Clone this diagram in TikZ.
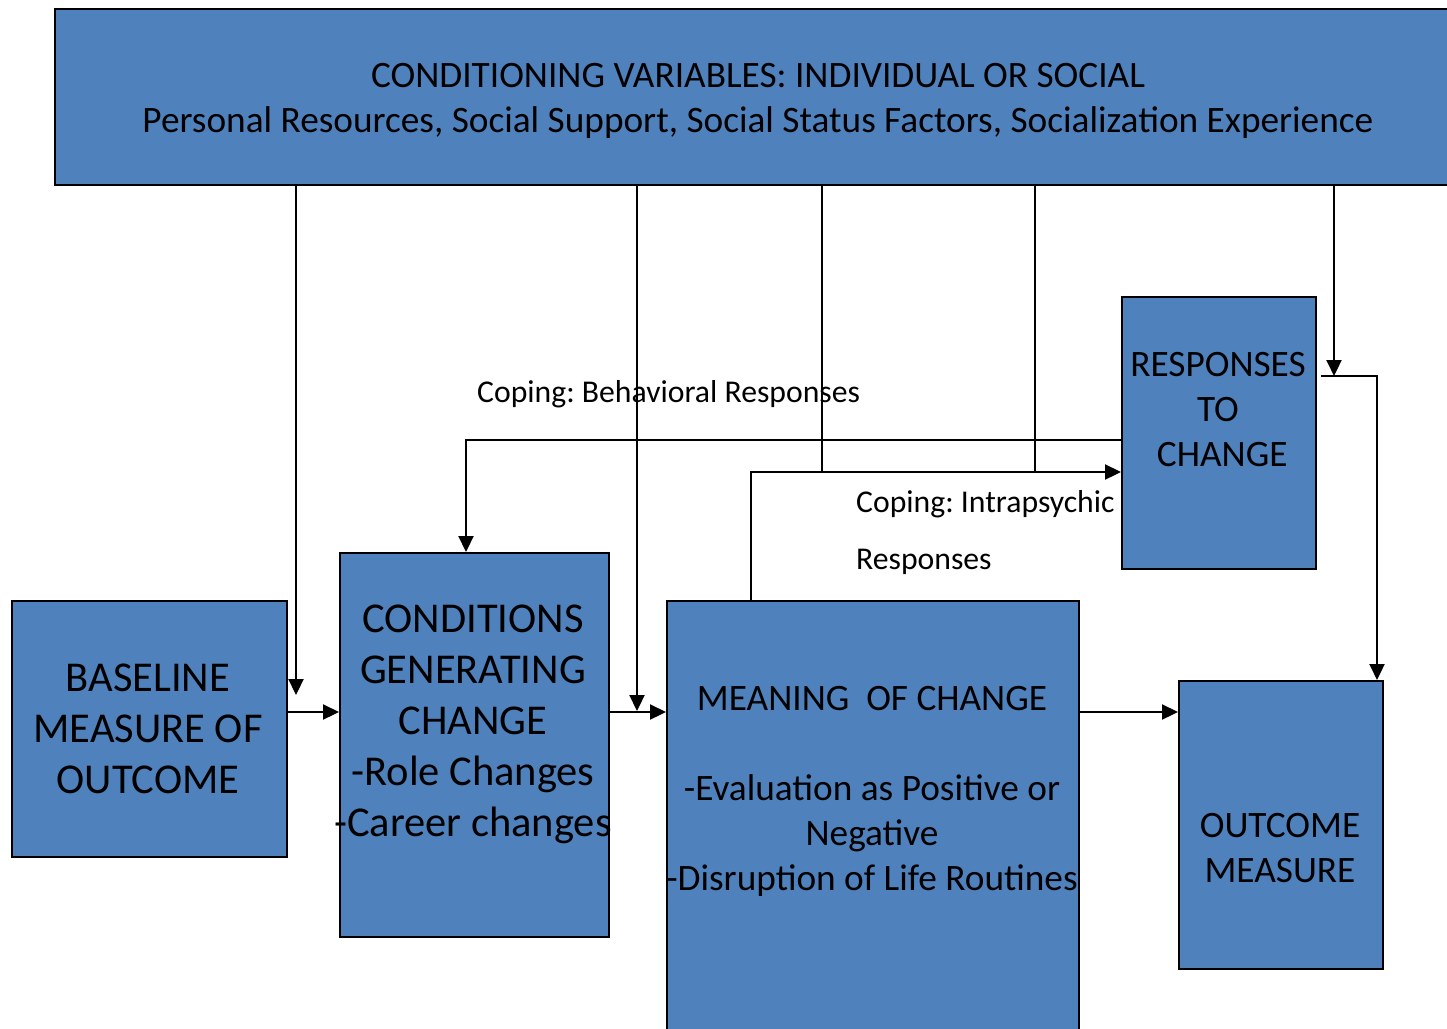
\documentclass[tikz,border=0pt]{standalone}
\usepackage{fontspec}
\setmainfont{Carlito}
\usetikzlibrary{arrows.meta}
\definecolor{boxblue}{HTML}{4F81BD}
\frenchspacing
\tikzset{
  box/.style={draw=black, line width=2.2pt, fill=boxblue, inner sep=0pt, anchor=north west},
  lbl/.style={align=center, inner sep=0pt, text=black},
  conn/.style={line width=2.2pt},
  arr/.style={conn, -{Triangle[length=16pt,width=15pt]}},
  bigtxt/.style={lbl, font=\fontsize{42.5}{51}\selectfont},
  midtxt/.style={lbl, font=\fontsize{37.3}{45}\selectfont},
  smalltxt/.style={lbl, font=\fontsize{31.7}{57}\selectfont}
}
\begin{document}
\begin{tikzpicture}[x=1pt,y=-1pt]
\useasboundingbox (0,0) rectangle (1447,1028);
\clip (0,0) rectangle (1447,1028);

% boxes
\node[box, minimum width=1410, minimum height=176] (cv) at (54,8) {};
\node[box, minimum width=275, minimum height=256] (base) at (11,600) {};
\node[box, minimum width=269, minimum height=384] (cond) at (339,552) {};
\node[box, minimum width=412, minimum height=480] (mean) at (666,600) {};
\node[box, minimum width=194, minimum height=272] (resp) at (1121,296) {};
\node[box, minimum width=204, minimum height=288] (outc) at (1178,680) {};

% box texts
\node[midtxt] (cvt) at (758,101) {CONDITIONING VARIABLES: INDIVIDUAL OR SOCIAL\\
  Personal Resources, Social Support, Social Status Factors, Socialization Experience};
\node[bigtxt] (baset) at (148,729) {BASELINE\\MEASURE OF\\OUTCOME};
\node[bigtxt] (condt) at (473,724) {CONDITIONS\\GENERATING\\CHANGE\\-Role Changes\\-Career changes};
\node[midtxt] (meant) at (872,791) {MEANING\ \ OF CHANGE\\[45pt]-Evaluation as Positive or\\Negative\\-Disruption of Life Routines};
\node[midtxt] (respt) at (1218,410) {RESPONSES\\TO\\\ CHANGE};
\node[midtxt] (outct) at (1280,848) {OUTCOME\\MEASURE};

% coping labels
\node[smalltxt, anchor=west] (behav) at (477,394) {Coping: Behavioral Responses};
\node[smalltxt, anchor=west, align=left] (intra) at (856,533) {Coping: Intrapsychic\\Responses};

% end points of the connectors
\coordinate (t1) at (296,695);
\coordinate (t2) at (637,711);
\coordinate (j1) at (822,472);
\coordinate (j2) at (1035,472);
\coordinate (t3) at (1334,376);
\coordinate (r1) at (1321,376);
\coordinate (r2) at (1377,376);
\coordinate (b1) at (466,440);
\coordinate (m1) at (751,472);

% influences from the conditioning variables
\draw[arr] (cv.south -| t1) -- (t1);
\draw[arr] (cv.south -| t2) -- (t2);
\draw[conn] (cv.south -| j1) -- (j1);
\draw[conn] (cv.south -| j2) -- (j2);
\draw[arr] (cv.south -| t3) -- (t3);

% responses to outcome
\draw[arr] (r1) -- (r2) -- (outc.north -| r2);

% behavioural coping loop
\draw[arr] (resp.west |- b1) -- (b1) -- (cond.north -| b1);

% intrapsychic coping
\draw[arr] (mean.north -| m1) -- (m1) -- (resp.west |- m1);

% main chain
\draw[arr] (base.east |- 0,712) -- (cond.west |- 0,712);
\draw[arr] (cond.east |- 0,712) -- (mean.west |- 0,712);
\draw[arr] (mean.east |- 0,712) -- (outc.west |- 0,712);
\end{tikzpicture}
\end{document}
